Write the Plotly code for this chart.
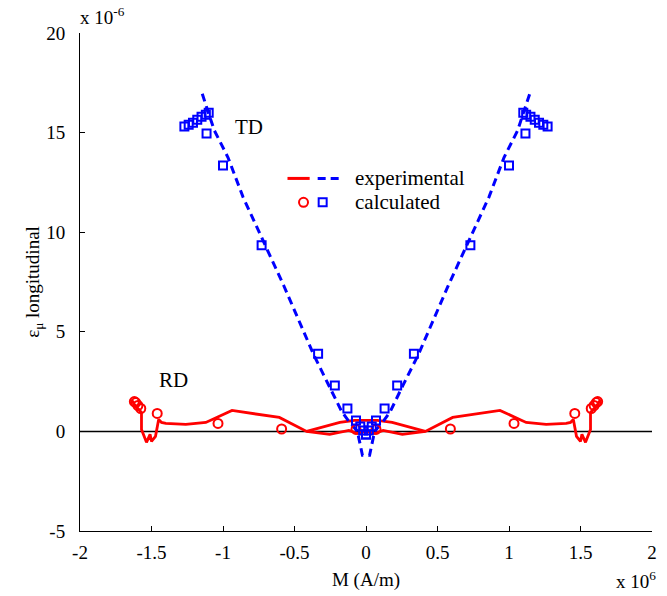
import plotly.graph_objects as go

# ---------------- data ----------------
# TD experimental (positive half, mirrored for negative M), units: 1e6 A/m, 1e-6 strain
td_exp_x = [0.025, 0.06, 0.12, 0.17, 0.218, 0.254, 0.366, 0.577, 0.859, 0.965, 1.06, 1.10, 1.12, 1.145]
td_exp_y = [-1.2, 0.0, 0.5, 1.0, 1.75, 2.25, 3.85, 7.35, 11.75, 13.75, 15.1, 15.95, 16.35, 16.95]

# TD calculated (positive half, mirrored)
td_calc_x = [0.0, 0.02, 0.04, 0.07, 0.13, 0.218, 0.335, 0.73, 1.0, 1.115,
             1.10, 1.12, 1.15, 1.18, 1.21, 1.24, 1.27]
td_calc_y = [-0.15, 0.05, 0.25, 0.55, 1.15, 2.3, 3.9, 9.35, 13.35, 14.95,
             16.0, 15.9, 15.8, 15.65, 15.5, 15.4, 15.3]

# RD experimental: outer branch (negative half, mirrored) and upper central arc
rd_exp_x = [-1.64, -1.62, -1.57, -1.57, -1.535, -1.51, -1.50, -1.472, -1.45, -1.43, -1.40,
            -1.26, -1.12, -0.937, -0.606, -0.415, -0.254, -0.12, -0.06]
rd_exp_y = [1.6, 1.35, 0.95, 0.1, -0.55, -0.15, -0.5, -0.25, 0.6, 0.45, 0.4,
            0.35, 0.45, 1.05, 0.7, 0.0, -0.15, 0.05, -0.1]
rd_arc_x = [-0.415, -0.183, -0.08, 0.08, 0.183, 0.415]
rd_arc_y = [0.0, 0.45, 0.55, 0.55, 0.45, 0.0]

# RD calculated (positive half, mirrored)
rd_calc_x = [0.07, 0.59, 1.035, 1.46, 1.575, 1.595, 1.61, 1.62]
rd_calc_y = [0.1, 0.12, 0.4, 0.9, 1.15, 1.3, 1.45, 1.5]

x_ticks = [-2, -1.5, -1, -0.5, 0, 0.5, 1, 1.5, 2]
x_ticklabels = ["-2", "-1.5", "-1", "-0.5", "0", "0.5", "1", "1.5", "2"]
y_ticks = [-5, 0, 5, 10, 15, 20]
y_ticklabels = ["-5", "0", "5", "10", "15", "20"]

RED = "#ff0000"
BLUE = "#0000ff"
FONT = "Liberation Serif"
TICK_SIZE = 19
TEXT_SIZE = 21

def mirror(xs, ys):
    nx = [-v for v in reversed(xs)]
    ny = list(reversed(ys))
    return nx + list(xs), ny + list(ys)

td_line_x, td_line_y = mirror(td_exp_x, td_exp_y)
td_mk_x, td_mk_y = mirror(td_calc_x, td_calc_y)
rd_mk_x, rd_mk_y = mirror(rd_calc_x, rd_calc_y)
rd_line_x = list(rd_exp_x) + [0.0] + [-v for v in reversed(rd_exp_x)] + [None] + rd_arc_x
rd_line_y = list(rd_exp_y) + [0.0] + list(reversed(rd_exp_y)) + [None] + rd_arc_y

fig = go.Figure()
fig.add_trace(go.Scatter(x=rd_line_x, y=rd_line_y, mode="lines",
                         line=dict(color=RED, width=2.8), connectgaps=False, showlegend=False))
fig.add_trace(go.Scatter(x=td_line_x, y=td_line_y, mode="lines",
                         line=dict(color=BLUE, width=3, dash="8px,5px"), showlegend=False))
fig.add_trace(go.Scatter(x=rd_mk_x, y=rd_mk_y, mode="markers",
                         marker=dict(symbol="circle-open", size=9, color=RED, line=dict(width=2, color=RED)),
                         showlegend=False))
fig.add_trace(go.Scatter(x=td_mk_x, y=td_mk_y, mode="markers",
                         marker=dict(symbol="square-open", size=8, color=BLUE, line=dict(width=2, color=BLUE)),
                         showlegend=False))

shapes = [
    # zero line
    dict(type="line", xref="x", yref="y", x0=-2, x1=2, y0=0, y1=0, line=dict(color="black", width=1.5), layer="below"),
    # legend symbols
    dict(type="line", xref="x", yref="y", x0=-0.549, x1=-0.394, y0=12.7, y1=12.7, line=dict(color=RED, width=3)),
    dict(type="line", xref="x", yref="y", x0=-0.338, x1=-0.183, y0=12.7, y1=12.7, line=dict(color=BLUE, width=3, dash="8px,5px")),
    dict(type="circle", xref="x", yref="y", xsizemode="pixel", ysizemode="pixel",
         xanchor=-0.437, yanchor=11.5, x0=-4.5, x1=4.5, y0=-4.5, y1=4.5, line=dict(color=RED, width=2)),
    dict(type="rect", xref="x", yref="y", xsizemode="pixel", ysizemode="pixel",
         xanchor=-0.303, yanchor=11.5, x0=-4, x1=4, y0=-4, y1=4, line=dict(color=BLUE, width=2)),
]

W, H = 667, 596
L, R, T, B = 80, 15, 33, 65
pw, ph = W - L - R, H - T - B
def px(xp): return (xp - L) / pw
def py(yp): return (H - B - yp) / ph

tf = dict(family=FONT, size=TEXT_SIZE, color="black")
annotations = [
    dict(text="experimental", x=-0.09, y=12.7, xref="x", yref="y", xanchor="left", yanchor="middle",
         showarrow=False, font=tf),
    dict(text="calculated", x=-0.09, y=11.5, xref="x", yref="y", xanchor="left", yanchor="middle",
         showarrow=False, font=tf),
    dict(text="TD", x=-0.82, y=15.3, xref="x", yref="y", xanchor="center", yanchor="middle",
         showarrow=False, font=tf),
    dict(text="RD", x=-1.345, y=2.6, xref="x", yref="y", xanchor="center", yanchor="middle",
         showarrow=False, font=tf),
    dict(text="x 10<sup>-6</sup>", x=px(78), y=py(30), xref="paper", yref="paper",
         xanchor="left", yanchor="bottom", showarrow=False, font=dict(family=FONT, size=TICK_SIZE)),
    dict(text="x 10<sup>6</sup>", x=px(614), y=py(566), xref="paper", yref="paper",
         xanchor="left", yanchor="top", showarrow=False, font=dict(family=FONT, size=TICK_SIZE)),
]

fig.update_layout(
    width=W, height=H,
    margin=dict(l=L, r=R, t=T, b=B),
    paper_bgcolor="white", plot_bgcolor="white",
    font=dict(family=FONT, size=TICK_SIZE, color="black"),
    shapes=shapes, annotations=annotations,
    showlegend=False,
    xaxis=dict(range=[-2, 2], tickvals=x_ticks, ticktext=x_ticklabels,
               ticks="inside", ticklen=5, tickwidth=1, tickcolor="black",
               showline=True, linecolor="black", linewidth=1, mirror=False,
               showgrid=False, zeroline=False, ticklabelstandoff=4, automargin=False,
               tickfont=dict(family=FONT, size=TICK_SIZE),
               title=dict(text="M (A/m)", standoff=10, font=dict(family=FONT, size=TICK_SIZE))),
    yaxis=dict(range=[-5, 20], tickvals=y_ticks, ticktext=y_ticklabels,
               ticks="inside", ticklen=5, tickwidth=1, tickcolor="black",
               showline=True, linecolor="black", linewidth=1, mirror=False,
               showgrid=False, zeroline=False, ticklabelstandoff=10, automargin=False,
               tickfont=dict(family=FONT, size=TICK_SIZE),
               title=dict(text="ε<sub>μ</sub> longitudinal", standoff=0, font=dict(family=FONT, size=TICK_SIZE))),
)

fig.write_html("out.html")
